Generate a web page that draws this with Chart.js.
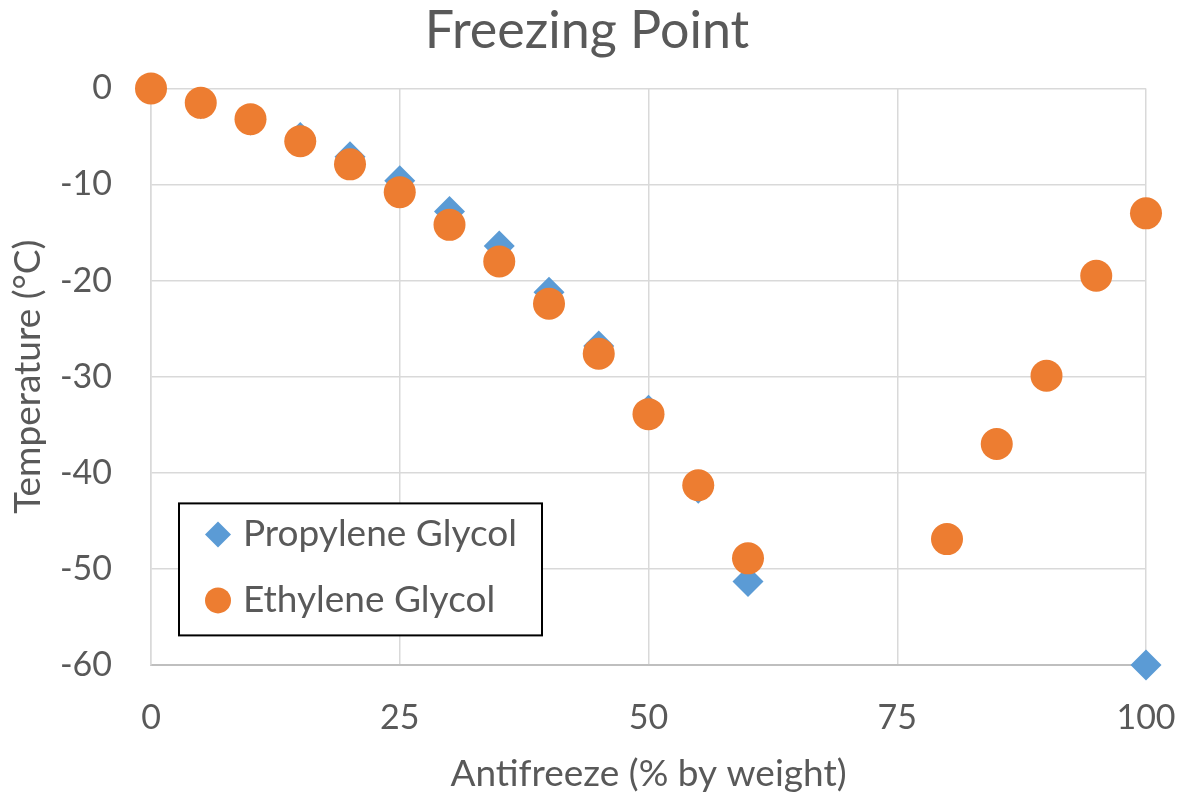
<!DOCTYPE html>
<html>
<head>
<meta charset="utf-8">
<title>Freezing Point</title>
<script src="https://cdn.jsdelivr.net/npm/chart.js@4.4.0/dist/chart.umd.min.js"></script>
<style>
  html, body { margin: 0; padding: 0; background: #fff; }
  #wrap { width: 1182px; height: 796px; }
</style>
</head>
<body>
<div id="wrap"><canvas id="chart" width="1182" height="796"></canvas></div>
<script>
// freezing point (°C) against antifreeze concentration (% by weight)
const propylenePct = [0, 5, 10, 15, 20, 25, 30, 35, 40, 45, 50, 55, 60, 100];
const propyleneTemp = [0, -1.6, -3.3, -5.1, -7.1, -9.6, -12.8, -16.4, -21.2, -26.8, -33.5, -41.6, -51.3, -60];

const ethylenePct = [0, 5, 10, 15, 20, 25, 30, 35, 40, 45, 50, 55, 60, 80, 85, 90, 95, 100];
const ethyleneTemp = [0, -1.5, -3.2, -5.5, -7.9, -10.8, -14.2, -18.0, -22.4, -27.6, -33.9, -41.3, -48.9, -46.9, -37.0, -29.9, -19.5, -13.0];

const xTicks = [0, 25, 50, 75, 100];
const yTicks = [0, -10, -20, -30, -40, -50, -60];

const FONT = 'Lato, "Open Sans", sans-serif';
const TEXT = '#595959';
const GRID = '#d9d9d9';
const BLUE = '#5b9bd5';
const ORANGE = '#ed7d31';

const toPoints = (xs, ys) => xs.map((x, i) => ({ x: x, y: ys[i] }));

// boxed legend sitting inside the plot, lower left
const boxLegend = {
  id: 'boxLegend',
  afterDatasetsDraw(chart, args, opts) {
    const { ctx, chartArea } = chart;
    const left = chartArea.left + opts.offsetX;
    const top = chartArea.top + opts.offsetY;

    ctx.save();
    ctx.fillStyle = '#fff';
    ctx.fillRect(left, top, opts.width, opts.height);
    ctx.lineWidth = 2;
    ctx.strokeStyle = '#000';
    ctx.strokeRect(left, top, opts.width, opts.height);

    ctx.font = opts.fontSize + 'px ' + FONT;
    ctx.textBaseline = 'middle';
    ctx.textAlign = 'left';

    chart.data.datasets.forEach((ds, i) => {
      const cx = left + opts.markerX;
      const cy = top + opts.rowTop + i * opts.rowGap;
      const r = opts.markerRadius;
      ctx.fillStyle = ds.backgroundColor;
      ctx.beginPath();
      if (ds.pointStyle === 'rectRot') {
        ctx.moveTo(cx - r, cy);
        ctx.lineTo(cx, cy - r);
        ctx.lineTo(cx + r, cy);
        ctx.lineTo(cx, cy + r);
        ctx.closePath();
      } else {
        ctx.arc(cx, cy, r, 0, Math.PI * 2);
      }
      ctx.fill();
      ctx.fillStyle = TEXT;
      ctx.fillText(ds.label, left + opts.textX, cy);
    });
    ctx.restore();
  }
};

new Chart(document.getElementById('chart'), {
  type: 'scatter',
  data: {
    datasets: [
      {
        label: 'Propylene Glycol',
        data: toPoints(propylenePct, propyleneTemp),
        pointStyle: 'rectRot',
        pointRadius: 15.5,
        pointHoverRadius: 15.5,
        backgroundColor: BLUE,
        borderColor: BLUE,
        borderWidth: 0,
        order: 2
      },
      {
        label: 'Ethylene Glycol',
        data: toPoints(ethylenePct, ethyleneTemp),
        pointStyle: 'circle',
        pointRadius: 16,
        pointHoverRadius: 16,
        backgroundColor: ORANGE,
        borderColor: ORANGE,
        borderWidth: 0,
        order: 1
      }
    ]
  },
  options: {
    responsive: false,
    animation: false,
    clip: false,
    layout: { padding: { left: 0, right: 8, top: 0, bottom: 0 } },
    plugins: {
      legend: { display: false },
      tooltip: { enabled: false },
      title: {
        display: true,
        text: 'Freezing Point',
        color: TEXT,
        font: { family: FONT, size: 52, weight: 'normal' },
        padding: { top: 0, bottom: 26 }
      },
      boxLegend: {
        offsetX: 28,
        offsetY: 415,
        width: 363,
        height: 132,
        markerX: 39,
        markerRadius: 13,
        textX: 64,
        rowTop: 31,
        rowGap: 66,
        fontSize: 37
      }
    },
    scales: {
      x: {
        type: 'linear',
        min: 0,
        max: 100,
        afterBuildTicks: (scale) => { scale.ticks = xTicks.map(v => ({ value: v })); },
        afterFit: (scale) => {
          scale.height = 131;
          // fixed room on the right for the "100" label
          scale.paddingRight = 36;
        },
        ticks: { color: TEXT, padding: 33, font: { family: FONT, size: 34 } },
        grid: { color: GRID, lineWidth: 1.5, drawTicks: false },
        border: { color: '#bfbfbf', width: 2 },
        title: {
          display: true,
          text: 'Antifreeze (% by weight)',
          color: TEXT,
          font: { family: FONT, size: 37 },
          padding: { top: 0, bottom: 0 }
        }
      },
      y: {
        type: 'linear',
        min: -60,
        max: 0,
        afterBuildTicks: (scale) => { scale.ticks = yTicks.map(v => ({ value: v })); },
        afterFit: (scale) => { scale.width = 151; },
        ticks: { color: TEXT, padding: 39, font: { family: FONT, size: 34 } },
        grid: { color: GRID, lineWidth: 1.5, drawTicks: false },
        border: { color: GRID, width: 1.5 },
        title: {
          display: true,
          text: 'Temperature (°C)',
          color: TEXT,
          font: { family: FONT, size: 37 },
          padding: { top: 6, bottom: 0 }
        }
      }
    }
  },
  plugins: [boxLegend]
});
</script>
</body>
</html>
